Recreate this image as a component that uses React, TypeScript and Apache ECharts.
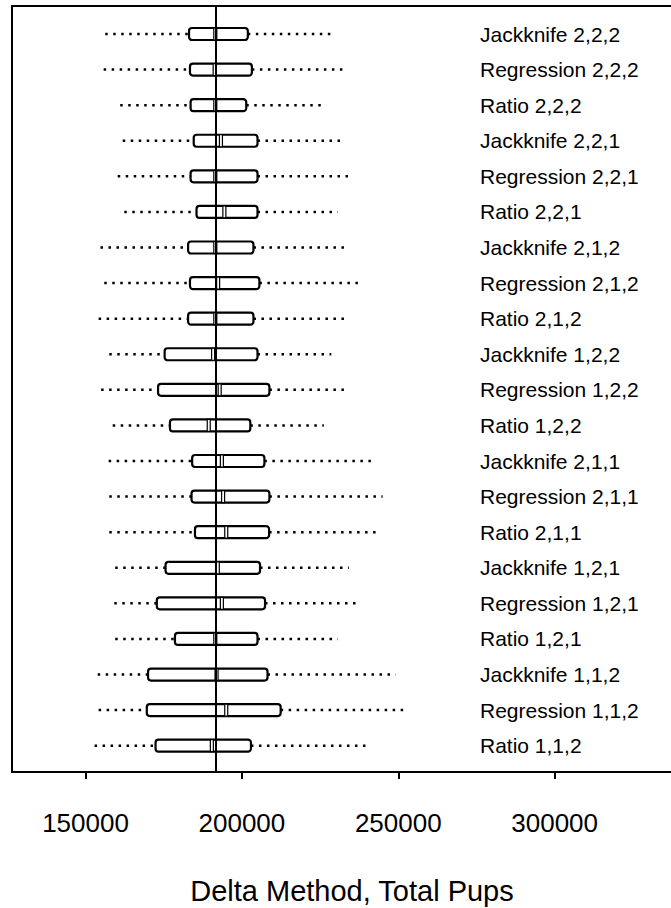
import React, { useEffect, useRef } from "react";
import * as echarts from "echarts";

// Row labels, top to bottom
const methods: string[] = [
  "Jackknife 2,2,2",
  "Regression 2,2,2",
  "Ratio 2,2,2",
  "Jackknife 2,2,1",
  "Regression 2,2,1",
  "Ratio 2,2,1",
  "Jackknife 2,1,2",
  "Regression 2,1,2",
  "Ratio 2,1,2",
  "Jackknife 1,2,2",
  "Regression 1,2,2",
  "Ratio 1,2,2",
  "Jackknife 2,1,1",
  "Regression 2,1,1",
  "Ratio 2,1,1",
  "Jackknife 1,2,1",
  "Regression 1,2,1",
  "Ratio 1,2,1",
  "Jackknife 1,1,2",
  "Regression 1,1,2",
  "Ratio 1,1,2",
];

// Five-number summaries for each estimator (total pups)
const whiskerLow: number[] = [
  156300, 155800, 161100, 161900, 160300, 162400, 154800, 156000, 154200, 157600, 155000,
  158700, 157400, 157600, 157600, 159500, 159200, 159500, 153900, 154200, 152900,
];
const quartile1: number[] = [
  183100, 183400, 183600, 184600, 183600, 185500, 182800, 183400, 182800, 175300, 173200,
  177000, 184100, 183900, 185000, 175600, 172800, 178600, 170000, 169600, 172400,
];
const median: number[] = [
  191500, 191300, 191500, 193300, 191500, 194400, 191500, 192400, 191500, 190800, 192900,
  189400, 193600, 194000, 195000, 192300, 193600, 191500, 191900, 195000, 190400,
];
const quartile3: number[] = [
  201900, 203200, 201400, 205000, 205000, 205000, 203700, 205600, 203700, 205000, 208800,
  202700, 207200, 208800, 208700, 205800, 207400, 205000, 208200, 212400, 202900,
];
const whiskerHigh: number[] = [
  228600, 232300, 227000, 231800, 234400, 230700, 234400, 237600, 233700, 228600, 232900,
  226200, 241500, 245000, 243400, 234200, 237100, 230700, 249200, 252300, 240300,
];

// Reference estimate marked by the vertical line
const referenceTotal = 191600;

// Tick values on the x axis
const xTicks: number[] = [150000, 200000, 250000, 300000];

const xTitle = "Delta Method, Total Pups";

const FONT = "'Liberation Sans', Arial, Helvetica, sans-serif";

export default function App() {
  const ref = useRef<HTMLDivElement>(null);

  useEffect(() => {
    if (!ref.current) return;
    const chart = echarts.init(ref.current, null, { renderer: "svg" });

    const data = methods.map((_, i) => [
      i,
      whiskerLow[i],
      quartile1[i],
      median[i],
      quartile3[i],
      whiskerHigh[i],
    ]);

    const renderItem = (params: any, api: any) => {
      const idx = api.value(0);
      const pLow = api.coord([api.value(1), idx]);
      const pQ1 = api.coord([api.value(2), idx]);
      const pMed = api.coord([api.value(3), idx]);
      const pQ3 = api.coord([api.value(4), idx]);
      const pHigh = api.coord([api.value(5), idx]);
      const cy = pLow[1];
      const h = 12;
      const dotted = {
        stroke: "#000",
        lineWidth: 2.5,
        lineDash: [2.5, 5.5],
        lineCap: "butt",
      };
      return {
        type: "group",
        children: [
          {
            type: "line",
            shape: { x1: pLow[0], y1: cy, x2: pQ1[0], y2: cy },
            style: dotted,
          },
          {
            type: "line",
            shape: { x1: pQ3[0], y1: cy, x2: pHigh[0], y2: cy },
            style: dotted,
          },
          {
            type: "rect",
            shape: { x: pQ1[0], y: cy - h / 2, width: pQ3[0] - pQ1[0], height: h, r: 3 },
            style: { fill: "#fff", stroke: "#000", lineWidth: 2.2 },
          },
          {
            type: "rect",
            shape: { x: pMed[0] - 1.5, y: cy - h / 2, width: 3, height: h },
            style: { fill: "#fff", stroke: "#000", lineWidth: 1.2 },
          },
          {
            type: "text",
            style: {
              x: 480,
              y: cy,
              text: methods[idx],
              fill: "#000",
              font: `21px ${FONT}`,
              textAlign: "left",
              textVerticalAlign: "middle",
            },
          },
        ],
      };
    };

    // The plot frame runs past the right edge, so it is open on that side
    const xMin = 126500;
    const xMax = 337200;

    chart.setOption({
      animation: false,
      backgroundColor: "#fff",
      grid: { left: 12, right: -4, top: 6, bottom: 136 },
      xAxis: [
        {
          type: "value",
          position: "bottom",
          min: xMin,
          max: xMax,
          axisLine: { show: true, onZero: false, lineStyle: { color: "#000", width: 2 } },
          axisTick: {
            show: true,
            customValues: xTicks,
            length: 7,
            lineStyle: { color: "#000", width: 2 },
          },
          axisLabel: {
            show: true,
            customValues: xTicks,
            formatter: (v: number) => String(v),
            fontSize: 26,
            fontFamily: FONT,
            color: "#000",
            margin: 38,
          },
          splitLine: { show: false },
        },
        {
          type: "value",
          position: "top",
          min: xMin,
          max: xMax,
          axisLine: { show: true, onZero: false, lineStyle: { color: "#000", width: 2 } },
          axisTick: { show: false },
          axisLabel: { show: false },
          splitLine: { show: false },
        },
      ],
      yAxis: {
        type: "value",
        inverse: true,
        min: -0.787,
        max: 20.739,
        axisLine: { show: true, onZero: false, lineStyle: { color: "#000", width: 2 } },
        axisTick: { show: false },
        axisLabel: { show: false },
        splitLine: { show: false },
      },
      graphic: [
        {
          type: "text",
          x: 352,
          y: 876,
          style: {
            text: xTitle,
            fill: "#000",
            font: `29px ${FONT}`,
            textAlign: "center",
            textVerticalAlign: "top",
          },
        },
      ],
      series: [
        {
          type: "custom",
          renderItem,
          data,
          xAxisIndex: 0,
          encode: { x: [1, 2, 3, 4, 5], y: 0 },
          clip: false,
          silent: true,
          z: 2,
          markLine: {
            silent: true,
            symbol: "none",
            label: { show: false },
            lineStyle: { color: "#000", width: 2, type: "solid" },
            data: [{ xAxis: referenceTotal }],
            z: 5,
          },
        },
      ],
    });

    return () => chart.dispose();
  }, []);

  return (
    <div
      ref={ref}
      style={{ position: "fixed", left: 0, top: 0, width: 671, height: 908, background: "#fff" }}
    />
  );
}
